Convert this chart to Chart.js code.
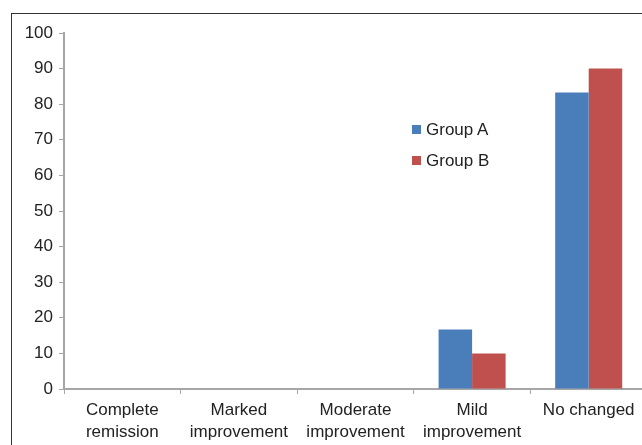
<!DOCTYPE html>
<html>
<head>
<meta charset="utf-8">
<script src="https://cdn.jsdelivr.net/npm/chart.js@4/dist/chart.umd.min.js"></script>
<style>
  html, body { margin: 0; padding: 0; background: #fff; overflow: hidden; }
  body { width: 642px; height: 445px; position: relative; font-family: "Liberation Sans", Arial, sans-serif; }
  #frame { position: absolute; left: 11px; top: 13px; width: 700px; height: 500px; border: 1px solid #333; box-sizing: border-box; }
  #wrap { position: absolute; left: 0; top: 0; width: 660px; height: 445px; }
  #legend { position: absolute; left: 412px; top: 114px; font-size: 17px; color: #222; }
  #legend .item { display: flex; align-items: center; height: 31px; }
  #legend .box { width: 9px; height: 9px; margin-right: 5px; }
</style>
</head>
<body>
<div id="frame"></div>
<div id="wrap"><canvas id="c" width="660" height="445"></canvas></div>
<div id="legend"></div>
<script>
const categories = [
  ["Complete", "remission"],
  ["Marked", "improvement"],
  ["Moderate", "improvement"],
  ["Mild", "improvement"],
  "No changed"
];
const groupA = [0, 0, 0, 16.7, 83.3];
const groupB = [0, 0, 0, 10, 90];
const yTicks = [0, 10, 20, 30, 40, 50, 60, 70, 80, 90, 100];

const colorA = "#4a7ebb";
const colorB = "#c0504d";
const axisColor = "#a6a6a6";
const textColor = "#222";
const font = { family: "'Liberation Sans', Arial, sans-serif", size: 17 };
const xFont = { family: "'Liberation Sans', Arial, sans-serif", size: 17, lineHeight: 1.3 };

const chart = new Chart(document.getElementById("c"), {
  type: "bar",
  data: {
    labels: categories,
    datasets: [
      { label: "Group A", data: groupA, backgroundColor: colorA },
      { label: "Group B", data: groupB, backgroundColor: colorB }
    ]
  },
  options: {
    responsive: false,
    animation: false,
    devicePixelRatio: 1,
    layout: { padding: { top: 33, right: 13, left: 0, bottom: 0 } },
    categoryPercentage: 0.575,
    barPercentage: 1,
    plugins: { legend: { display: false }, tooltip: { enabled: false } },
    scales: {
      x: {
        grid: { display: true, drawOnChartArea: false, drawTicks: true, tickLength: 5, color: axisColor, offset: true },
        border: { display: true, color: axisColor, width: 2 },
        ticks: { color: textColor, font: xFont, padding: 5, maxRotation: 0, autoSkip: false },
        afterFit: s => { s.height = 56; }
      },
      y: {
        min: 0, max: 100,
        afterBuildTicks: s => { s.ticks = yTicks.map(v => ({ value: v })); },
        grid: { display: true, drawOnChartArea: false, drawTicks: true, tickLength: 5, color: axisColor },
        border: { display: true, color: axisColor, width: 2 },
        ticks: { color: textColor, font: font, padding: 6 },
        afterFit: s => { s.width = 64; }
      }
    }
  }
});

// legend built from the datasets
const legend = document.getElementById("legend");
chart.data.datasets.forEach(ds => {
  const item = document.createElement("div");
  item.className = "item";
  const box = document.createElement("span");
  box.className = "box";
  box.style.background = ds.backgroundColor;
  const txt = document.createElement("span");
  txt.textContent = ds.label;
  item.appendChild(box);
  item.appendChild(txt);
  legend.appendChild(item);
});
</script>
</body>
</html>
